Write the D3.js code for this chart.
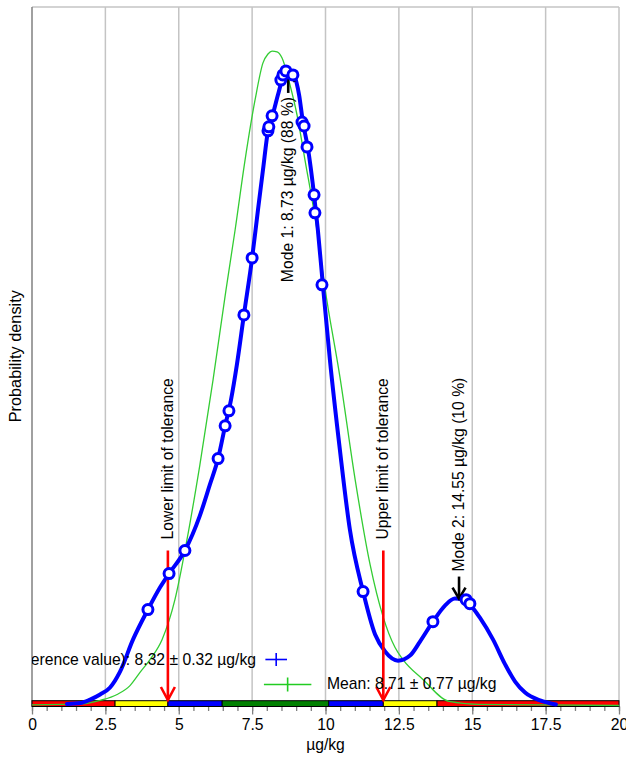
<!DOCTYPE html>
<html><head><meta charset="utf-8">
<script src="https://cdn.jsdelivr.net/npm/d3@7/dist/d3.min.js"></script>
<style>
body{margin:0;background:#fff;}
text{font-family:"Liberation Sans",Arial,sans-serif;}
</style>
</head><body>
<svg id="chart" width="626" height="760"></svg>
<script>
// ---- data ----
const kdeX = [1.19,1.64,1.98,2.32,2.66,3.00,3.44,3.95,4.36,4.67,5.21,5.72,6.06,6.34,6.58,6.78,6.98,7.22,7.50,7.70,7.87,8.04,8.21,8.38,8.52,8.69,8.82,8.93,9.10,9.23,9.40,9.61,9.74,9.91,10.15,10.49,10.83,11.28,11.69,12.03,12.47,12.88,13.22,13.66,14.07,14.41,14.68,14.89,15.26,15.71,16.12,16.46,16.80,17.31,17.85];
const kdeY = [0.0006,0.0009,0.0022,0.0041,0.0067,0.0126,0.0245,0.0357,0.0439,0.0491,0.0577,0.0707,0.0822,0.0919,0.1041,0.1138,0.1268,0.1454,0.1666,0.1845,0.1994,0.2139,0.2202,0.2273,0.2328,0.2362,0.2362,0.2347,0.2273,0.2172,0.2075,0.1901,0.1770,0.1566,0.1287,0.0952,0.0655,0.0424,0.0264,0.0201,0.0167,0.0186,0.0238,0.0312,0.0372,0.0398,0.0394,0.0379,0.0327,0.0245,0.0153,0.0089,0.0048,0.0019,0.0004];

const normX = [0,0.95,1.74,2.32,2.90,3.34,3.68,4.02,4.43,4.87,5.28,5.72,6.17,6.61,6.92,7.26,7.60,7.87,8.04,8.18,8.35,8.52,8.79,9.03,9.30,9.71,9.98,10.49,11.01,11.52,11.96,12.37,12.64,13.32,14.21,15.23,20];
const normY = [0.0002,0.0004,0.0006,0.0019,0.0041,0.0074,0.0123,0.0171,0.0245,0.0394,0.0617,0.0896,0.1213,0.1547,0.1770,0.2031,0.2254,0.2392,0.2425,0.2436,0.2433,0.2410,0.2310,0.2198,0.2031,0.1770,0.1555,0.1224,0.0841,0.0524,0.0331,0.0216,0.0171,0.0097,0.0015,0.0004,0];

const resultX = [3.95,4.67,5.21,6.34,6.58,6.71,7.22,7.50,8.04,8.07,8.18,8.48,8.55,8.65,8.89,9.20,9.27,9.37,9.61,9.64,9.88,11.28,13.66,14.79,14.92];
const resultY = [0.0357,0.0491,0.0577,0.0919,0.1041,0.1097,0.1454,0.1666,0.2139,0.2154,0.2195,0.2328,0.2347,0.2362,0.2347,0.2172,0.2157,0.2079,0.1901,0.1834,0.1566,0.0424,0.0312,0.0394,0.0379];

const bandEdges = [0,2.83,4.63,6.48,10.11,11.97,13.80,20];
const toleranceLimits = [4.63,11.97];
const toleranceLabels = ["Lower limit of tolerance","Upper limit of tolerance"];

const modeValues = [8.73,14.55];
const modeDensity = [0.2362,0.0398];
const modeShares = ["88 %","10 %"];

const assignedValue = 8.32, assignedU = 0.32;
const meanValue = 8.71, meanSD = 0.77;

const xTickValues = [0,2.5,5,7.5,10,12.5,15,17.5,20];
const xTickLabels = ["0","2.5","5","7.5","10","12.5","15","17.5","20"];
const xLabel = "µg/kg";
const yLabel = "Probability density";

// ---- drawing ----
const svg = d3.select("#chart");
const L = 32, R = 619, T = 7, B = 705.5;
const x = d3.scaleLinear().domain([0,20]).range([L,R]);
const y = d3.scaleLinear().domain([0,0.26]).range([B,T]);
const FS = "15.7px";

svg.append("defs").append("clipPath").attr("id","plotClip")
  .append("rect").attr("x",L).attr("y",0).attr("width",626-L).attr("height",760);

// gridlines
svg.append("g").selectAll("line").data(xTickValues.slice(1)).join("line")
  .attr("x1",d=>x(d)).attr("x2",d=>x(d)).attr("y1",T).attr("y2",B)
  .attr("stroke","#c4c4c4").attr("stroke-width",1.5);
// top border
svg.append("line").attr("x1",L).attr("x2",R).attr("y1",T).attr("y2",T)
  .attr("stroke","#c4c4c4").attr("stroke-width",1.5);
// left border
svg.append("line").attr("x1",L).attr("x2",L).attr("y1",T).attr("y2",B+1)
  .attr("stroke","#808080").attr("stroke-width",1.5);

// axis ticks
const minorTicks = d3.range(0,20.001,0.5);
const axMinor = d3.axisBottom(x).tickValues(minorTicks).tickSize(4.5).tickFormat("");
const axMajor = d3.axisBottom(x).tickValues(xTickValues).tickSize(8).tickPadding(4.5)
  .tickFormat((d,i)=>xTickLabels[i]);
const gMin = svg.append("g").attr("transform",`translate(0,${B+1})`).call(axMinor);
const gMaj = svg.append("g").attr("transform",`translate(0,${B+1})`).call(axMajor);
[gMin,gMaj].forEach(g=>{
  g.select(".domain").remove();
  g.selectAll(".tick line").attr("stroke","#808080").attr("stroke-width",1.3);
});
gMaj.selectAll(".tick text").attr("fill","#000").style("font-size",FS)
  .style("font-family",'"Liberation Sans",Arial,sans-serif');

// z-score band
const bandColors = ["#ff0000","#ffff00","#0000ff","#008000","#0000ff","#ffff00","#ff0000"];
svg.append("g").selectAll("rect").data(d3.pairs(bandEdges)).join("rect")
  .attr("x",d=>x(d[0])).attr("width",d=>x(d[1])-x(d[0]))
  .attr("y",B-4.8).attr("height",5.8)
  .attr("fill",(d,i)=>bandColors[i]).attr("stroke","#000").attr("stroke-width",1);

// normal curve
const normPts = normX.map((v,i)=>[v,normY[i]]);
svg.append("path").datum(normPts)
  .attr("d",d3.line().x(d=>x(d[0])).y(d=>y(d[1])).curve(d3.curveMonotoneX))
  .attr("fill","none").attr("stroke","#33cc33").attr("stroke-width",1.3);

// kernel density curve
const kdePts = kdeX.map((v,i)=>[v,kdeY[i]]);
svg.append("path").datum(kdePts)
  .attr("d",d3.line().x(d=>x(d[0])).y(d=>y(d[1])).curve(d3.curveMonotoneX))
  .attr("fill","none").attr("stroke","#0000ff").attr("stroke-width",4)
  .attr("stroke-linejoin","round").attr("stroke-linecap","round");

// tolerance arrows (red)
toleranceLimits.forEach((v,i)=>{
  const xx = x(v), top = B-155, tip = B-5.5;
  const g = svg.append("g").attr("stroke","#ff0000").attr("stroke-width",2.6).attr("fill","none");
  g.append("line").attr("x1",xx).attr("x2",xx).attr("y1",top).attr("y2",tip);
  g.append("polyline").attr("points",`${xx-7},${tip-13} ${xx},${tip} ${xx+7},${tip-13}`);
  svg.append("text").attr("transform",`translate(${xx},${top-11}) rotate(-90)`)
    .attr("dy","0.3em").style("font-size",FS).attr("fill","#000").text(toleranceLabels[i]);
});

// mode arrows (black)
modeValues.forEach((v,i)=>{
  const xx = x(v), tip = y(modeDensity[i]);
  const up = i===0; // first mode labelled below the peak
  const tail = up ? tip+22 : tip-22;
  const s = up ? 1 : -1;
  const g = svg.append("g").attr("stroke","#000").attr("stroke-width",2.6).attr("fill","none");
  g.append("line").attr("x1",xx).attr("x2",xx).attr("y1",tail).attr("y2",tip);
  g.append("polyline").attr("points",`${xx-6.5},${tip+s*11} ${xx},${tip} ${xx+6.5},${tip+s*11}`);
  const label = `Mode ${i+1}: ${v.toFixed(2)} µg/kg (${modeShares[i]})`;
  svg.append("text")
    .attr("transform",`translate(${xx},${up ? tip+26 : tip-27}) rotate(-90)`)
    .attr("text-anchor", up ? "end" : "start")
    .attr("dy","0.3em").style("font-size",FS).attr("fill","#000").text(label);
});

// result points
svg.append("g").selectAll("circle").data(resultX.map((v,i)=>[v,resultY[i]])).join("circle")
  .attr("cx",d=>x(d[0])).attr("cy",d=>y(d[1])).attr("r",5)
  .attr("fill","#fff").attr("stroke","#0000ff").attr("stroke-width",3);

// legend crosses
function cross(cx, half, cy, vh, color){
  const g = svg.append("g").attr("stroke",color).attr("stroke-width",1.6);
  g.append("line").attr("x1",x(cx-half)).attr("x2",x(cx+half)).attr("y1",cy).attr("y2",cy);
  g.append("line").attr("x1",x(cx)).attr("x2",x(cx)).attr("y1",cy-vh).attr("y2",cy+vh);
}
cross(assignedValue, assignedU*1.15, 659.5, 6.5, "#0000ff");
cross(meanValue, meanSD*1.05, 684.5, 7, "#22cc22");
svg.append("text").attr("x",256).attr("y",665).attr("text-anchor","end")
  .attr("clip-path","url(#plotClip)")
  .style("font-size",FS).attr("fill","#000")
  .text(`Assigned value (reference value): ${assignedValue.toFixed(2)} ± ${assignedU.toFixed(2)} µg/kg`);
svg.append("text").attr("x",327).attr("y",689)
  .style("font-size",FS).attr("fill","#000")
  .text(`Mean: ${meanValue.toFixed(2)} ± ${meanSD.toFixed(2)} µg/kg`);

// axis titles
svg.append("text").attr("x",(L+R)/2).attr("y",750).attr("text-anchor","middle")
  .style("font-size",FS).attr("fill","#000").text(xLabel);
svg.append("text").attr("transform",`translate(20.5,${(T+B)/2}) rotate(-90)`)
  .attr("text-anchor","middle").style("font-size","16.3px").attr("fill","#000").text(yLabel);
</script>
</body></html>
